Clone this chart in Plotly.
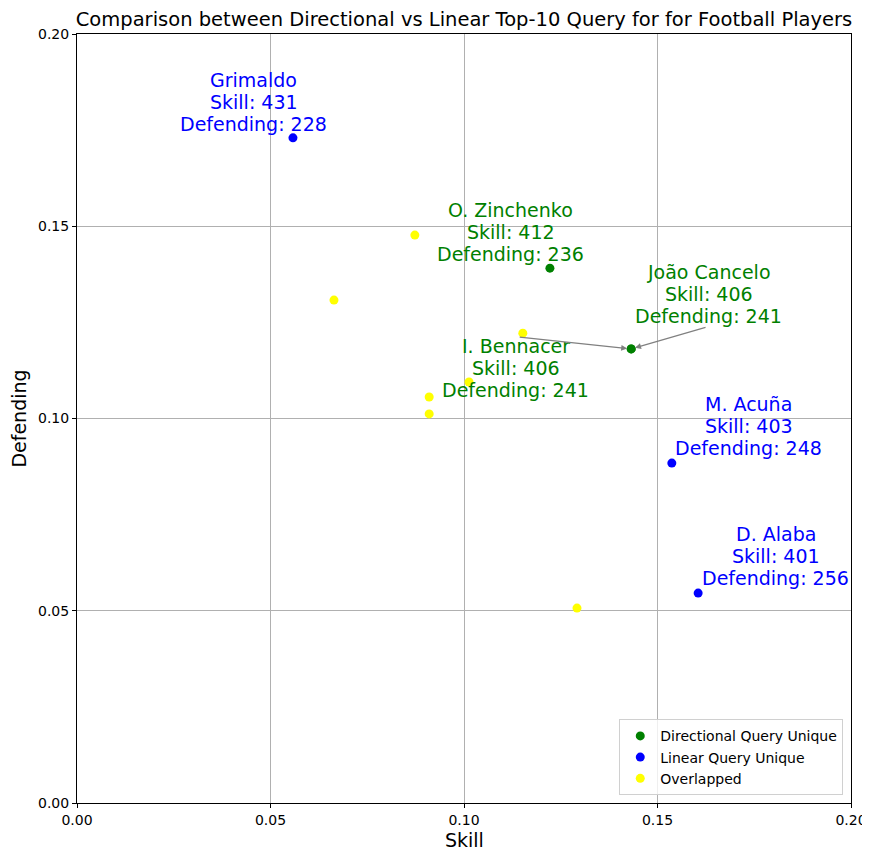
import plotly.graph_objects as go

# Directional-only players (Cancelo and Bennacer share the same point)
dir_names = ["O. Zinchenko", "João Cancelo", "I. Bennacer"]
dir_skill_raw = [412, 406, 406]
dir_def_raw = [236, 241, 241]
dir_x = [0.1222, 0.1432, 0.1432]
dir_y = [0.1391, 0.1181, 0.1181]

# Linear-only players
lin_names = ["Grimaldo", "M. Acuña", "D. Alaba"]
lin_skill_raw = [431, 403, 401]
lin_def_raw = [228, 248, 256]
lin_x = [0.0558, 0.1537, 0.1605]
lin_y = [0.1730, 0.0884, 0.0546]

# Players returned by both queries
ovl_x = [0.0873, 0.0664, 0.1152, 0.1013, 0.0910, 0.0910, 0.1292]
ovl_y = [0.1477, 0.1308, 0.1222, 0.1095, 0.1056, 0.1012, 0.0507]

# where the labels ended up after de-overlapping (text centre, arrow tail or None)
label_pos = {
    "Grimaldo": (0.0457, 0.1823, None),
    "M. Acuña": (0.1736, 0.0980, None),
    "D. Alaba": (0.1806, 0.0642, None),
    "O. Zinchenko": (0.1121, 0.1485, None),
    "João Cancelo": (0.1633, 0.1324, (0.1628, 0.1238)),
    "I. Bennacer": (0.1134, 0.1131, (0.1140, 0.1212)),
}

FONT = "DejaVu Sans"
LINE_H = 22  # px between label lines

fig = go.Figure()
fig.add_trace(go.Scatter(x=dir_x, y=dir_y, mode="markers", name="Directional Query Unique",
                         marker=dict(color="green", size=9)))
fig.add_trace(go.Scatter(x=lin_x, y=lin_y, mode="markers", name="Linear Query Unique",
                         marker=dict(color="blue", size=9)))
fig.add_trace(go.Scatter(x=ovl_x, y=ovl_y, mode="markers", name="Overlapped",
                         marker=dict(color="yellow", size=9)))

annotations = []
groups = [(dir_names, dir_skill_raw, dir_def_raw, dir_x, dir_y, "green"),
          (lin_names, lin_skill_raw, lin_def_raw, lin_x, lin_y, "blue")]
for names, sk, df, xs, ys, col in groups:
    for n, s, d, px, py in zip(names, sk, df, xs, ys):
        tx, ty, tail = label_pos[n]
        lines = [n, f"Skill: {s}", f"Defending: {d}"]
        for i, line in enumerate(lines):
            annotations.append(dict(
                x=tx, y=ty, xref="x", yref="y", showarrow=False,
                text=line, yshift=(1 - i) * LINE_H,
                font=dict(family=FONT, size=19, color=col),
            ))
        if tail is not None:
            annotations.append(dict(
                x=px, y=py, ax=tail[0], ay=tail[1], xref="x", yref="y",
                axref="x", ayref="y", text="", showarrow=True,
                arrowhead=2, arrowsize=1, arrowwidth=1.2, arrowcolor="gray", standoff=4,
            ))

# x axis title as a plain annotation so it stays put near the bottom edge
annotations.append(dict(x=0.5, y=0, xref="paper", yref="paper", showarrow=False,
                        text="Skill", yanchor="middle", yshift=-37,
                        font=dict(family=FONT, size=19, color="black")))

axis_style = dict(
    range=[0, 0.2], dtick=0.05, tickformat=".2f",
    showgrid=True, gridcolor="#b0b0b0", gridwidth=1,
    showline=True, linecolor="black", linewidth=1, mirror=True,
    ticks="outside", ticklen=4, tickcolor="black",
    tickfont=dict(family=FONT, size=14, color="black"),
    ticklabeloverflow="allow",
    zeroline=False,
)

# the page puts the figure 8px in from the top-left corner
fig.update_layout(
    width=862, height=843,
    margin=dict(l=69, r=19, t=26, b=48, autoexpand=False),
    paper_bgcolor="white", plot_bgcolor="white",
    title=dict(text="Comparison between Directional vs Linear Top-10 Query for for Football Players",
               x=0.5, xref="paper", y=1, yref="paper", yanchor="bottom", pad=dict(b=8),
               font=dict(family=FONT, size=19.5, color="black")),
    xaxis=axis_style,
    yaxis=dict(axis_style, title=dict(text="Defending", font=dict(family=FONT, size=19, color="black"), standoff=8)),
    legend=dict(x=0.99, y=0.01, xanchor="right", yanchor="bottom",
                bgcolor="rgba(255,255,255,0.8)", bordercolor="#d0d0d0", borderwidth=1,
                font=dict(family=FONT, size=14, color="black")),
    annotations=annotations,
    showlegend=True,
)

fig.write_html("out.html")
